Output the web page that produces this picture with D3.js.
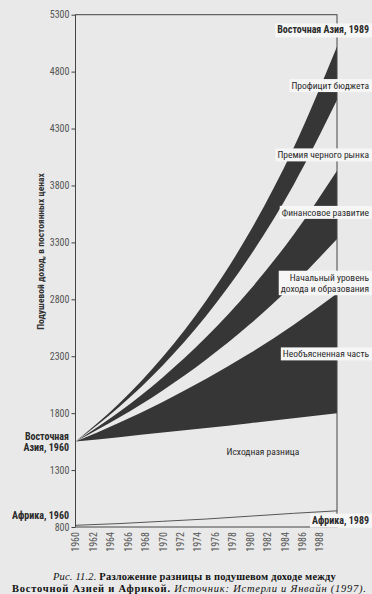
<!DOCTYPE html>
<html><head><meta charset="utf-8">
<script src="https://cdn.jsdelivr.net/npm/d3@7"></script>
<style>
html,body{margin:0;padding:0;background:#e9e9e9;}
svg{display:block;}
.sans{font-family:"Liberation Sans Narrow","Roboto Condensed","DejaVu Sans Condensed","Roboto",sans-serif;}
.serif{font-family:"Liberation Serif","DejaVu Serif",serif;}
</style></head><body>
<svg id="chart" width="372" height="594"></svg>
<script>
// ---- data ----
const years = [1960, 1965, 1970, 1975, 1980, 1985, 1990];
const fiscalTop        = [1550, 1885, 2293, 2790, 3393, 4127, 5020]; // East Asia actual
const fiscalBottom     = [1550, 1855, 2219, 2656, 3178, 3803, 4550];
const financeTop       = [1550, 1810, 2114, 2468, 2882, 3366, 3930];
const financeBottom    = [1550, 1761, 2000, 2272, 2581, 2932, 3330];
const unexplainedTop   = [1550, 1716, 1899, 2102, 2326, 2575, 2850];
const unexplainedBottom= [1550, 1589, 1629, 1670, 1712, 1756, 1800];
const africa           = [815, 830, 850, 870, 895, 920, 942];

const yTicks = [800, 1300, 1800, 2300, 2800, 3300, 3800, 4300, 4800, 5300];
const xTicks = [1960,1962,1964,1966,1968,1970,1972,1974,1976,1978,1980,1982,1984,1986,1988];

const bandLabels = ["Профицит бюджета", "Премия черного рынка", "Финансовое развитие",
                    ["Начальный уровень", "дохода и образования"], "Необъясненная часть"];
const bandLabelValues = [4676, 4067, 3562, 2942, 2319];
const yTitle = "Подушевой доход, в постоянных ценах";

// ---- drawing ----
const svg = d3.select("#chart");
const x = d3.scaleLinear().domain([1960, 1990]).range([75.5, 337]);
const y = d3.scaleLinear().domain([800, 5300]).range([527, 14.7]);
const dark = "#363636", axisCol = "#444";

const bands = [[fiscalTop, fiscalBottom], [financeTop, financeBottom], [unexplainedTop, unexplainedBottom]];
const area = d3.area().x(d => x(d.t)).y0(d => y(d.lo)).y1(d => y(d.hi)).curve(d3.curveMonotoneX);
bands.forEach(([hi, lo]) => {
  const pts = years.map((t, i) => ({t, hi: hi[i], lo: lo[i]}));
  svg.append("path").attr("d", area(pts)).attr("fill", dark);
});

const line = d3.line().x(d => x(d.t)).y(d => y(d.v)).curve(d3.curveMonotoneX);
svg.append("path").attr("d", line(years.map((t, i) => ({t, v: africa[i]}))))
  .attr("fill", "none").attr("stroke", "#555").attr("stroke-width", 1);

// frame
svg.append("rect").attr("x", x(1960)).attr("y", y(5300))
  .attr("width", x(1990) - x(1960)).attr("height", y(800) - y(5300))
  .attr("fill", "none").attr("stroke", axisCol).attr("stroke-width", 1);

// y axis
const yAxis = svg.append("g").attr("transform", `translate(${x(1960)},0)`)
  .call(d3.axisLeft(y).tickValues(yTicks).tickSize(4).tickPadding(2).tickFormat(d3.format("d")));
yAxis.select(".domain").remove();
yAxis.selectAll("line").attr("stroke", axisCol);
yAxis.selectAll("text").attr("class", "sans").attr("font-size", 10).attr("fill", "#555");

// x axis
const xAxis = svg.append("g").attr("transform", `translate(0,${y(800)})`)
  .call(d3.axisBottom(x).tickValues(xTicks).tickSize(0).tickFormat(d3.format("d")));
xAxis.select(".domain").remove();
xAxis.selectAll("text").attr("class", "sans").attr("font-size", 10).attr("fill", "#555")
  .attr("transform", "rotate(-90)").attr("text-anchor", "end")
  .attr("x", -5).attr("y", 0).attr("dy", "0.34em");

// y title
svg.append("text").attr("class", "sans").attr("font-size", 9.5).attr("font-weight", "bold")
  .attr("fill", "#333").attr("text-anchor", "middle")
  .attr("transform", `translate(44,${y(3220)}) rotate(-90)`).text(yTitle);

// boxed labels on the right
function boxedLabel(lines, val, bold) {
  const g = svg.append("g");
  const arr = Array.isArray(lines) ? lines : [lines];
  const lh = 11.5;
  const t = g.append("text").attr("class", "sans").attr("font-size", bold ? 10 : 9.5)
    .attr("font-weight", bold ? "bold" : "normal").attr("fill", "#2a2a2a").attr("text-anchor", "end");
  arr.forEach((s, i) => t.append("tspan").attr("x", 369)
    .attr("y", y(val) + (i - (arr.length - 1) / 2) * lh).attr("dy", "0.35em").text(s));
  const bb = t.node().getBBox();
  g.insert("rect", "text").attr("x", bb.x - 2).attr("y", bb.y - 1)
    .attr("width", 372 - bb.x + 2).attr("height", bb.height + 2).attr("fill", "#f6f6f6");
}
bandLabels.forEach((l, i) => boxedLabel(l, bandLabelValues[i], false));
boxedLabel("Восточная Азия, 1989", 5166, true);
boxedLabel("Африка, 1989", 860, true);

// left labels
const eastAsia1960 = svg.append("text").attr("class", "sans").attr("font-size", 10)
  .attr("font-weight", "bold").attr("fill", "#2a2a2a").attr("text-anchor", "end");
eastAsia1960.append("tspan").attr("x", 69).attr("y", y(1550) - 5.5).attr("dy", "0.35em").text("Восточная");
eastAsia1960.append("tspan").attr("x", 69).attr("y", y(1550) + 5.5).attr("dy", "0.35em").text("Азия, 1960");
svg.append("text").attr("class", "sans").attr("font-size", 10).attr("font-weight", "bold")
  .attr("fill", "#2a2a2a").attr("text-anchor", "end").attr("x", 69).attr("y", y(904)).attr("dy", "0.35em")
  .text("Африка, 1960");
svg.append("text").attr("class", "sans").attr("font-size", 9.5).attr("fill", "#2a2a2a")
  .attr("text-anchor", "middle").attr("x", x(1981.5)).attr("y", y(1466)).attr("dy", "0.35em")
  .text("Исходная разница");

// caption
function captionLine(parts, x0, width, yy) {
  const t = svg.append("text").attr("class", "serif").attr("font-size", 10.5).attr("fill", "#111")
    .attr("x", x0).attr("y", yy);
  parts.forEach(p => t.append("tspan").attr("font-weight", p.b ? "bold" : "normal")
    .attr("font-style", p.i ? "italic" : "normal").text(p.s));
  const n = parts.reduce((a, p) => a + p.s.length, 0);
  const w = t.node().getComputedTextLength();
  t.attr("letter-spacing", (width - w) / (n - 1));
}
captionLine([{s: "Рис.  11.2. ", i: true}, {s: "Разложение разницы в подушевом доходе между", b: true}], 53, 283, 580);
captionLine([{s: "Восточной Азией и Африкой. ", b: true}, {s: "Источник: Истерли и Янвайн (1997).", i: true}], 12, 354, 592);
</script>
</body></html>
